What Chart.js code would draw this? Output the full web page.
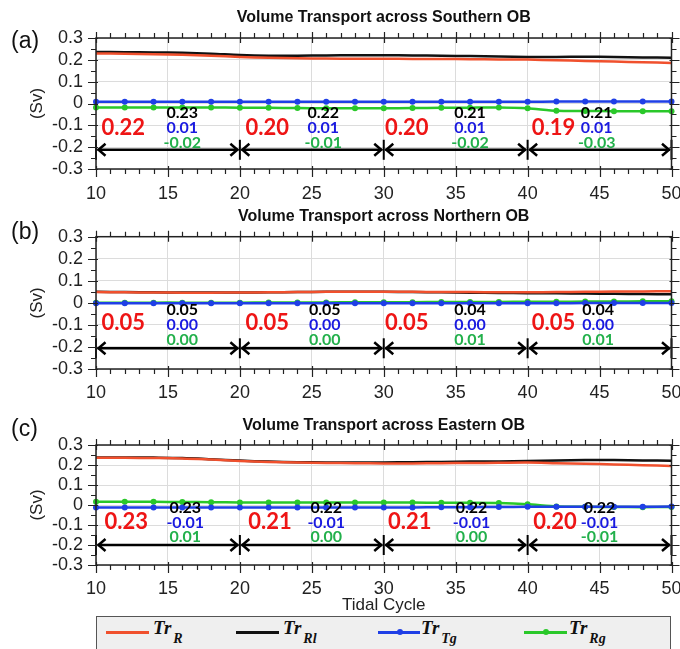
<!DOCTYPE html>
<html><head><meta charset="utf-8">
<script src="https://cdn.jsdelivr.net/npm/chart.js@4.4.1/dist/chart.umd.min.js"></script>
<style>
html,body{margin:0;padding:0;background:#fff;width:680px;height:649px;overflow:hidden;}
#wrap{position:relative;width:680px;height:649px;overflow:hidden;}
canvas.pc{position:absolute;left:0;}
#legend{position:absolute;left:96px;top:616px;width:575px;height:40px;background:#efefef;border:1.5px solid #555;box-sizing:border-box;}
#legend .ln{position:absolute;top:14px;height:2.5px;}
#legend .dot{position:absolute;top:12px;width:6px;height:6px;border-radius:50%;}
#legend .tx{position:absolute;top:1px;font-family:"Liberation Serif",serif;font-weight:bold;font-style:italic;font-size:19px;line-height:20px;color:#111;white-space:nowrap;}
#legend .tx sub{font-size:14px;vertical-align:-9px;margin-left:2px;}
</style>
</head><body>
<div id="wrap">
<canvas id="cA" class="pc" width="700" height="200" style="top:0px;width:700px;height:200px"></canvas>
<canvas id="cB" class="pc" width="700" height="200" style="top:200px;width:700px;height:200px"></canvas>
<canvas id="cC" class="pc" width="700" height="216" style="top:400px;width:700px;height:216px"></canvas>
<div id="legend">
  <div class="ln" style="left:9px;width:43px;background:#f0502d"></div>
  <div class="tx" style="left:56px">Tr<sub>R</sub></div>
  <div class="ln" style="left:139px;width:43px;background:#111"></div>
  <div class="tx" style="left:186px">Tr<sub>Rl</sub></div>
  <div class="ln" style="left:281px;width:42px;background:#1f3fe6"></div>
  <div class="dot" style="left:300px;background:#1f3fe6"></div>
  <div class="tx" style="left:324px">Tr<sub>Tg</sub></div>
  <div class="ln" style="left:427px;width:43px;background:#2ac82a"></div>
  <div class="dot" style="left:446px;background:#2ac82a"></div>
  <div class="tx" style="left:472px">Tr<sub>Rg</sub></div>
</div>
</div>
<script>
// ---------- data ----------
const cycles = [10,12,14,16,18,20,22,24,26,28,30,32,34,36,38,40,42,44,46,48,50];
const segBounds = [10,20,30,40,50];

// (a) Southern OB
const southR  = [0.229,0.228,0.226,0.223,0.219,0.213,0.209,0.207,0.206,0.205,0.205,0.204,0.204,0.203,0.202,0.201,0.198,0.195,0.192,0.189,0.186];
const southRl = [0.236,0.235,0.234,0.232,0.228,0.222,0.219,0.219,0.220,0.221,0.221,0.220,0.219,0.217,0.215,0.213,0.213,0.214,0.213,0.211,0.210];
const southTg = [0.008,0.008,0.008,0.008,0.008,0.008,0.008,0.008,0.008,0.008,0.008,0.008,0.008,0.008,0.008,0.008,0.009,0.009,0.009,0.009,0.009];
const southRg = [-0.018,-0.018,-0.018,-0.018,-0.018,-0.019,-0.020,-0.021,-0.022,-0.022,-0.022,-0.021,-0.020,-0.019,-0.018,-0.022,-0.033,-0.034,-0.035,-0.035,-0.035];
const southAvgR  = [0.22,0.20,0.20,0.19];
const southAvgRl = [0.23,0.22,0.21,0.21];
const southAvgTg = [0.01,0.01,0.01,0.01];
const southAvgRg = [-0.02,-0.01,-0.02,-0.03];

// (b) Northern OB
const northR  = [0.049,0.048,0.047,0.046,0.046,0.047,0.048,0.049,0.050,0.050,0.050,0.050,0.049,0.049,0.048,0.048,0.049,0.050,0.051,0.052,0.053];
const northRl = [0.050,0.049,0.048,0.047,0.047,0.047,0.048,0.049,0.050,0.050,0.050,0.049,0.048,0.046,0.045,0.044,0.043,0.042,0.041,0.040,0.039];
const northTg = [-0.002,-0.002,-0.002,-0.002,-0.002,-0.002,-0.002,-0.002,-0.002,-0.002,-0.002,-0.002,-0.002,-0.002,-0.002,-0.002,-0.002,-0.001,-0.001,-0.001,-0.001];
const northRg = [0.000,0.000,0.001,0.001,0.001,0.001,0.002,0.002,0.002,0.003,0.003,0.003,0.004,0.004,0.004,0.005,0.005,0.006,0.006,0.007,0.007];
const northAvgR  = [0.05,0.05,0.05,0.05];
const northAvgRl = [0.05,0.05,0.04,0.04];
const northAvgTg = [0.00,0.00,0.00,0.00];
const northAvgRg = [0.00,0.00,0.01,0.01];

// (c) Eastern OB
const eastR  = [0.236,0.236,0.235,0.233,0.227,0.220,0.215,0.212,0.210,0.209,0.208,0.208,0.209,0.210,0.211,0.212,0.209,0.206,0.203,0.199,0.195];
const eastRl = [0.238,0.238,0.237,0.235,0.229,0.222,0.217,0.214,0.213,0.213,0.213,0.214,0.215,0.217,0.218,0.220,0.223,0.225,0.225,0.223,0.221];
const eastTg = [-0.012,-0.012,-0.012,-0.012,-0.012,-0.012,-0.012,-0.012,-0.012,-0.012,-0.012,-0.012,-0.011,-0.011,-0.010,-0.009,-0.009,-0.009,-0.009,-0.009,-0.008];
const eastRg = [0.016,0.016,0.016,0.015,0.014,0.013,0.012,0.012,0.012,0.012,0.012,0.012,0.011,0.011,0.010,0.004,-0.007,-0.009,-0.010,-0.011,-0.010];
const eastAvgR  = [0.23,0.21,0.21,0.20];
const eastAvgRl = [0.23,0.22,0.22,0.22];
const eastAvgTg = [-0.01,-0.01,-0.01,-0.01];
const eastAvgRg = [0.01,0.00,0.00,-0.01];

const yTickValues = [-0.3,-0.2,-0.1,0,0.1,0.2,0.3];

// ---------- style ----------
const C_RED = '#f0502d', C_BLACK = '#111111', C_BLUE = '#1f3fe6', C_GREEN = '#2ac82a';
const A_RED = '#ee1515', A_BLUE = '#1a1ae0', A_GREEN = '#22b04b';
const SANS = '"Liberation Sans", Arial, sans-serif';
const ANN = 'Lato, "Open Sans", sans-serif';

function pts(arr){ return cycles.map((c,i)=>({x:c, y:arr[i]})); }

function decoPlugin(letter, avgs, place){
  return {
    id:'deco',
    afterDatasetsDraw(chart){
      const ctx = chart.ctx, xs = chart.scales.x, ys = chart.scales.y;
      ctx.save();
      ctx.textAlign='center'; ctx.textBaseline='middle';
      for(let k=0;k<4;k++){
        ctx.font = 'bold 22px ' + ANN; ctx.fillStyle = A_RED;
        ctx.fillText(avgs.R[k].toFixed(2), xs.getPixelForValue(place.redX[k]), ys.getPixelForValue(place.yRed));
        ctx.font = 'bold 16px ' + ANN;
        const sx = xs.getPixelForValue(place.stackX[k]);
        ctx.fillStyle = '#000'; ctx.fillText(avgs.Rl[k].toFixed(2), sx, ys.getPixelForValue(place.yBlack));
        ctx.fillStyle = A_BLUE; ctx.fillText(avgs.Tg[k].toFixed(2), sx, ys.getPixelForValue(place.yBlue));
        ctx.fillStyle = A_GREEN; ctx.fillText(avgs.Rg[k].toFixed(2), sx, ys.getPixelForValue(place.yGreen));
      }
      // arrows
      const ya = ys.getPixelForValue(place.arrowY);
      ctx.strokeStyle='#000'; ctx.lineWidth=2.5; ctx.lineCap='butt'; ctx.lineJoin='miter';
      for(let k=0;k<segBounds.length-1;k++){
        const x1 = xs.getPixelForValue(segBounds[k]) + 1.5, x2 = xs.getPixelForValue(segBounds[k+1]) - 1.5;
        ctx.beginPath(); ctx.moveTo(x1,ya); ctx.lineTo(x2,ya); ctx.stroke();
        ctx.beginPath(); ctx.moveTo(x1+8,ya-6); ctx.lineTo(x1+1,ya); ctx.lineTo(x1+8,ya+6); ctx.stroke();
        ctx.beginPath(); ctx.moveTo(x2-8,ya-6); ctx.lineTo(x2-1,ya); ctx.lineTo(x2-8,ya+6); ctx.stroke();
      }
      ctx.lineWidth=2;
      for(const b of segBounds){
        const x = xs.getPixelForValue(b);
        ctx.beginPath(); ctx.moveTo(x,ya-10); ctx.lineTo(x,ya+10); ctx.stroke();
      }
      ctx.restore();
    },
    afterDraw(chart){
      const ctx = chart.ctx, xs = chart.scales.x, ys = chart.scales.y;
      const {left,right,top,bottom} = chart.chartArea;
      ctx.save();
      ctx.strokeStyle='#222'; ctx.lineWidth=1.5;
      ctx.strokeRect(left,top,right-left,bottom-top);
      ctx.lineWidth=1.2;
      ctx.beginPath();
      for(let v=10; v<=50; v++){
        const x = Math.round(xs.getPixelForValue(v))+0.5, major = v%5===0;
        if(major){ ctx.moveTo(x,bottom-3); ctx.lineTo(x,bottom+8); ctx.moveTo(x,top-6); ctx.lineTo(x,top+5); }
        else { ctx.moveTo(x,bottom); ctx.lineTo(x,bottom+5); ctx.moveTo(x,top-5); ctx.lineTo(x,top); }
      }
      for(let i=-6;i<=6;i++){
        const y = Math.round(ys.getPixelForValue(i*0.05))+0.5, major = i%2===0;
        if(major){ ctx.moveTo(left-8,y); ctx.lineTo(left+2,y); ctx.moveTo(right-2,y); ctx.lineTo(right+8,y); }
        else { ctx.moveTo(left-5,y); ctx.lineTo(left,y); ctx.moveTo(right,y); ctx.lineTo(right+5,y); }
      }
      ctx.stroke();
      // panel letter
      ctx.fillStyle='#111'; ctx.font='23px ' + SANS; ctx.textAlign='left'; ctx.textBaseline='middle';
      ctx.fillText(letter, 11, place.letterY);
      ctx.restore();
    }
  };
}

function makePanel(id, title, letter, s, avgs, place, geo){
  new Chart(document.getElementById(id), {
    type:'line',
    data:{ datasets:[
      {label:'Tr_R',  data:pts(s.R),  borderColor:C_RED,   backgroundColor:C_RED,   borderWidth:2.5, pointRadius:0, tension:0.3},
      {label:'Tr_Rl', data:pts(s.Rl), borderColor:C_BLACK, backgroundColor:C_BLACK, borderWidth:2.5, pointRadius:0, tension:0.3},
      {label:'Tr_Tg', data:pts(s.Tg), borderColor:C_BLUE,  backgroundColor:C_BLUE,  borderWidth:2.5, pointRadius:3, pointBorderWidth:0, tension:0.2, clip:false},
      {label:'Tr_Rg', data:pts(s.Rg), borderColor:C_GREEN, backgroundColor:C_GREEN, borderWidth:2.5, pointRadius:3, pointBorderWidth:0, tension:0.2, clip:false}
    ]},
    options:{
      responsive:false, animation:false, devicePixelRatio:1,
      layout:{padding:{left:0,right:28.5,top:0,bottom:0}},
      plugins:{
        legend:{display:false}, tooltip:{enabled:false},
        title:{display:true, text:title, fullSize:false, color:'#111',
               font:{family:SANS, size:16, weight:'bold'}, padding:{top:geo.tt, bottom:geo.tb}}
      },
      scales:{
        x:{type:'linear', min:10, max:50,
           ticks:{stepSize:5, autoSkip:false, maxRotation:0, color:'#222', font:{family:SANS,size:18}, padding:geo.tp},
           grid:{color:'#dcdcdc', lineWidth:1, drawTicks:false}, border:{display:false},
           title:{display:geo.xTitle, text:'Tidal Cycle', color:'#222', font:{family:SANS,size:17}, padding:{top:0,bottom:geo.xtb}},
           afterFit:(sc)=>{ sc.height = geo.xh; }},
        y:{min:-0.3, max:0.3,
           afterBuildTicks:(sc)=>{ sc.ticks = yTickValues.map(v=>({value:v})); },
           ticks:{autoSkip:false, color:'#222', font:{family:SANS,size:18}, padding:13},
           grid:{color:'#dcdcdc', lineWidth:1, drawTicks:false}, border:{display:false},
           title:{display:true, text:'(Sv)', color:'#222', font:{family:SANS,size:17}, padding:{top:27,bottom:0}},
           afterFit:(sc)=>{ sc.width = 96; }}
      }
    },
    plugins:[decoPlugin(letter, avgs, place)]
  });
}

makePanel('cA','Volume Transport across Southern OB','(a)',
  {R:southR,Rl:southRl,Tg:southTg,Rg:southRg},
  {R:southAvgR,Rl:southAvgRl,Tg:southAvgTg,Rg:southAvgRg},
  {redX:[11.9,21.9,31.6,41.8], stackX:[16.0,25.8,36.0,44.8], yRed:-0.11, yBlack:-0.045, yBlue:-0.112, yGreen:-0.18, arrowY:-0.212, letterY:42},
  {tt:8.4, tb:10.4, tp:14, xh:31, xTitle:false, xtb:0});

makePanel('cB','Volume Transport across Northern OB','(b)',
  {R:northR,Rl:northRl,Tg:northTg,Rg:northRg},
  {R:northAvgR,Rl:northAvgRl,Tg:northAvgTg,Rg:northAvgRg},
  {redX:[11.9,21.9,31.6,41.8], stackX:[16.0,25.9,36.0,44.9], yRed:-0.093, yBlack:-0.033, yBlue:-0.098, yGreen:-0.166, arrowY:-0.206, letterY:33},
  {tt:7.4, tb:10.1, tp:13, xh:31, xTitle:false, xtb:0});

makePanel('cC','Volume Transport across Eastern OB','(c)',
  {R:eastR,Rl:eastRl,Tg:eastTg,Rg:eastRg},
  {R:eastAvgR,Rl:eastAvgRl,Tg:eastAvgTg,Rg:eastAvgRg},
  {redX:[12.1,22.1,31.8,41.9], stackX:[16.2,26.0,36.1,45.0], yRed:-0.083, yBlack:-0.015, yBlue:-0.088, yGreen:-0.16, arrowY:-0.2, letterY:30},
  {tt:16.4, tb:9.4, tp:12.8, xh:51, xTitle:true, xtb:0.8});
</script>
</body></html>
